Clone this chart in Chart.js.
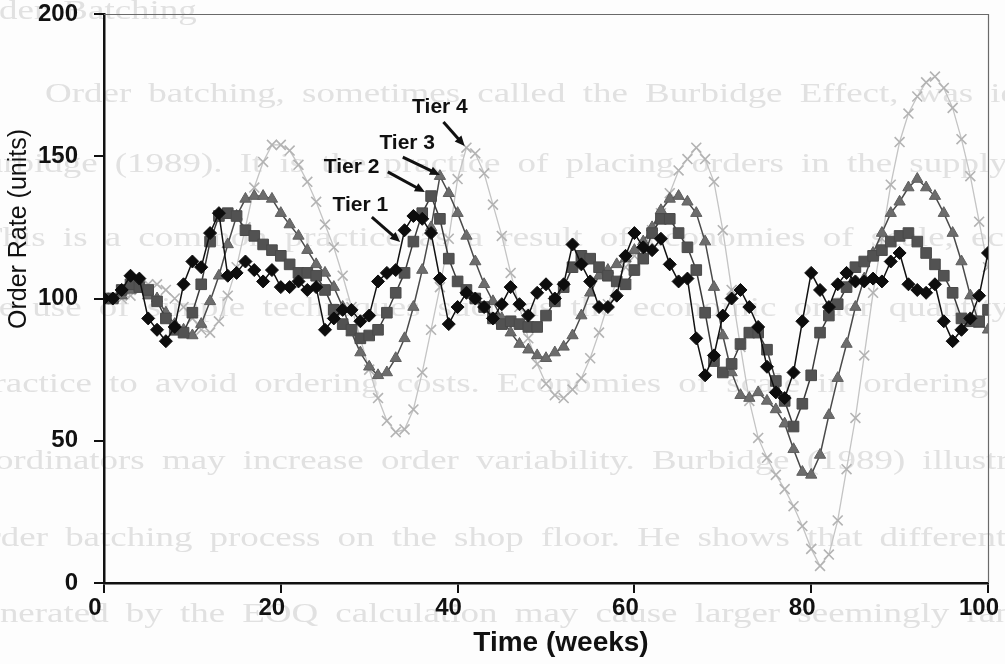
<!DOCTYPE html>
<html>
<head>
<meta charset="utf-8">
<title>Order rate by tier</title>
<script src="https://cdn.jsdelivr.net/npm/chart.js@4.4.1/dist/chart.umd.min.js"></script>
<style>
  html, body { margin: 0; padding: 0; background: #fdfdfd; overflow: hidden; }
  #page { position: relative; width: 1005px; height: 664px; }
  #scan { position: absolute; left: 0; top: 0; width: 1005px; height: 664px; overflow: hidden;
          font-family: "Liberation Serif", "DejaVu Serif", serif; font-size: 28px; line-height: 36px;
          color: #e1e1e1; filter: blur(0.6px); }
  #scan div { position: absolute; white-space: nowrap; word-spacing: 6px; transform: scaleX(1.32); transform-origin: 0 0; }
  #chart { position: absolute; left: 0; top: 0; }
</style>
</head>
<body>
<div id="page">
  <!-- faded page text showing through the scanned figure -->
  <div id="scan">
    <div style="top:-8px; left:-40px;">Order Batching</div>
    <div style="top:75px; left:45px;">Order batching, sometimes called the Burbidge Effect, was identified by</div>
    <div style="top:145px; left:-40px;">Burbidge (1989). It is the practice of placing orders in the supply chain in batches</div>
    <div style="top:219px; left:-20px;">This is a common practice as a result of economies of scale, economies of</div>
    <div style="top:289px; left:-30px;">the use of simple techniques such as the economic order quantity model</div>
    <div style="top:365px; left:-25px;">practice to avoid ordering costs. Economies of scale in ordering or transportation</div>
    <div style="top:442px; left:-40px;">coordinators may increase order variability. Burbidge (1989) illustrates the problem</div>
    <div style="top:519px; left:-30px;">order batching process on the shop floor. He shows that different order quantities</div>
    <div style="top:595px; left:-35px;">generated by the EOQ calculation may cause larger seemingly random fluctuations</div>
  </div>
  <canvas id="chart" width="1005" height="664"></canvas>
</div>
<script>
// Weeks on the x axis
const weeks = [
  0, 1, 2, 3, 4, 5, 6, 7, 8, 9,
  10, 11, 12, 13, 14, 15, 16, 17, 18, 19,
  20, 21, 22, 23, 24, 25, 26, 27, 28, 29,
  30, 31, 32, 33, 34, 35, 36, 37, 38, 39,
  40, 41, 42, 43, 44, 45, 46, 47, 48, 49,
  50, 51, 52, 53, 54, 55, 56, 57, 58, 59,
  60, 61, 62, 63, 64, 65, 66, 67, 68, 69,
  70, 71, 72, 73, 74, 75, 76, 77, 78, 79,
  80, 81, 82, 83, 84, 85, 86, 87, 88, 89,
  90, 91, 92, 93, 94, 95, 96, 97, 98, 99,
  100
];

// Order rate (units) per week
const tier1 = [
  100, 100, 103, 108, 107, 93, 89, 85, 90, 105,
  113, 111, 123, 130, 108, 109, 113, 110, 106, 110,
  104, 104, 106, 103, 104, 89, 93, 96, 96, 92,
  94, 106, 109, 110, 124, 129, 128, 123, 107, 91,
  97, 102, 100, 97, 93, 98, 104, 98, 94, 102,
  105, 100, 105, 119, 112, 106, 97, 97, 101, 115,
  123, 118, 117, 121, 112, 106, 107, 86, 73, 80,
  94, 100, 103, 97, 90, 76, 67, 65, 74, 92,
  109, 103, 97, 105, 109, 106, 106, 107, 106, 113,
  116, 105, 103, 102, 105, 92, 85, 89, 93, 101,
  116
];
const tier2 = [
  100, 100, 103, 105, 104, 103, 99, 93, 89, 88,
  95, 105, 120, 129, 130, 129, 124, 122, 119, 117,
  115, 112, 109, 109, 108, 103, 96, 91, 89, 86,
  87, 89, 95, 102, 109, 120, 130, 136, 128, 114,
  106, 103, 100, 97, 93, 91, 92, 91, 90, 90,
  94, 99, 104, 111, 115, 114, 111, 108, 106, 105,
  110, 114, 123, 128, 128, 123, 118, 110, 95, 78,
  74, 77, 84, 88, 88, 82, 71, 64, 55, 63,
  73, 88, 94, 98, 104, 111, 113, 115, 117, 120,
  122, 123, 120, 116, 112, 108, 102, 93, 92, 92,
  96
];
const tier3 = [
  100, 100, 101, 103, 104, 101, 100, 95, 91, 89,
  87, 91, 99, 108, 119, 129, 135, 136, 136, 135,
  130, 126, 122, 117, 112, 109, 104, 97, 88, 81,
  76, 73, 74, 79, 86, 97, 110, 125, 143, 137,
  130, 122, 113, 105, 99, 93, 88, 84, 82, 80,
  79, 81, 83, 87, 94, 102, 108, 110, 112, 114,
  117, 120, 125, 131, 135, 136, 134, 130, 120, 104,
  87, 74, 66, 65, 67, 64, 61, 56, 47, 39,
  38, 45, 59, 72, 84, 97, 107, 116, 123, 130,
  134, 139, 142, 139, 136, 130, 123, 113, 101, 91,
  89
];
const tier4 = [
  100, 100, 100, 101, 103, 105, 105, 103, 100, 97,
  93, 89, 88, 92, 101, 111, 125, 139, 148, 154,
  154, 152, 147, 141, 134, 126, 118, 108, 97, 86,
  75, 65, 57, 53, 54, 61, 74, 89, 104, 121,
  142, 153, 151, 144, 133, 122, 109, 97, 86, 77,
  70, 66, 65, 68, 72, 79, 88, 98, 106, 111,
  115, 119, 124, 130, 137, 145, 149, 153, 149, 141,
  124, 103, 83, 64, 51, 44, 38, 33, 27, 20,
  12, 6, 10, 22, 40, 58, 80, 102, 121, 140,
  155, 165, 171, 176, 178, 174, 167, 156, 143, 127,
  111
];

// Axis ticks
const xTicks = [0, 20, 40, 60, 80, 100];
const yTicks = [0, 50, 100, 150, 200];

// Callout labels: text, label centre and arrow in data units
const callouts = [
  { text: 'Tier 4', at: [38.0, 167.3], from: [38.4, 162.0], to: [40.8, 153.6] },
  { text: 'Tier 3', at: [34.3, 154.7], from: [33.8, 149.7], to: [38.0, 143.4] },
  { text: 'Tier 2', at: [28.0, 146.2], from: [32.1, 144.5], to: [36.3, 137.4] },
  { text: 'Tier 1', at: [29.0, 132.9], from: [30.3, 128.6], to: [33.5, 119.9] }
];

const FONT = '"Liberation Sans", Arial, sans-serif';

function toPoints(values) {
  return weeks.map((w, i) => ({ x: w, y: values[i] }));
}

function series(label, values, style) {
  return Object.assign({
    label: label,
    data: toPoints(values),
    borderWidth: 1.5,
    tension: 0,
    fill: false,
    pointBorderWidth: 1
  }, style);
}

// Frame on top/right, axis titles and the tier callouts
const decorations = {
  id: 'decorations',
  beforeDatasetsDraw(chart) {
    const { ctx, chartArea: a } = chart;
    ctx.save();
    ctx.strokeStyle = '#6a6a6a';
    ctx.lineWidth = 1.2;
    ctx.beginPath();
    ctx.moveTo(a.left, a.top + 0.5);
    ctx.lineTo(a.right + 0.5, a.top + 0.5);
    ctx.lineTo(a.right + 0.5, a.bottom);
    ctx.stroke();
    ctx.restore();
  },
  afterDraw(chart) {
    const { ctx } = chart;
    const xs = chart.scales.x, ys = chart.scales.y;
    ctx.save();
    ctx.fillStyle = '#111';
    ctx.textAlign = 'center';
    ctx.textBaseline = 'middle';

    ctx.font = 'bold 28px ' + FONT;
    ctx.fillText('Time (weeks)', 561, 643);

    ctx.save();
    ctx.translate(19, 229);
    ctx.rotate(-Math.PI / 2);
    ctx.font = '25px ' + FONT;
    ctx.fillText('Order Rate (units)', 0, 0);
    ctx.restore();

    ctx.font = 'bold 21px ' + FONT;
    ctx.strokeStyle = '#111';
    ctx.lineWidth = 3;
    callouts.forEach(c => {
      ctx.fillText(c.text, xs.getPixelForValue(c.at[0]), ys.getPixelForValue(c.at[1]));
      const x0 = xs.getPixelForValue(c.from[0]), y0 = ys.getPixelForValue(c.from[1]);
      const x1 = xs.getPixelForValue(c.to[0]), y1 = ys.getPixelForValue(c.to[1]);
      const ang = Math.atan2(y1 - y0, x1 - x0);
      const head = 10;
      ctx.beginPath();
      ctx.moveTo(x0, y0);
      ctx.lineTo(x1 - Math.cos(ang) * head * 0.6, y1 - Math.sin(ang) * head * 0.6);
      ctx.stroke();
      ctx.beginPath();
      ctx.moveTo(x1, y1);
      ctx.lineTo(x1 - head * Math.cos(ang) + 4.5 * Math.sin(ang), y1 - head * Math.sin(ang) - 4.5 * Math.cos(ang));
      ctx.lineTo(x1 - head * Math.cos(ang) - 4.5 * Math.sin(ang), y1 - head * Math.sin(ang) + 4.5 * Math.cos(ang));
      ctx.closePath();
      ctx.fill();
    });
    ctx.restore();
  }
};

const ctx = document.getElementById('chart').getContext('2d');
new Chart(ctx, {
  type: 'line',
  data: {
    datasets: [
      series('Tier 1', tier1, {
        borderColor: '#111', pointStyle: 'rectRot', pointRadius: 6.5,
        pointBackgroundColor: '#0d0d0d', pointBorderColor: '#0d0d0d'
      }),
      series('Tier 2', tier2, {
        borderColor: '#3a3a3a', pointStyle: 'rect', pointRadius: 7.5,
        pointBackgroundColor: '#525252', pointBorderColor: '#4a4a4a'
      }),
      series('Tier 3', tier3, {
        borderColor: '#4a4a4a', pointStyle: 'triangle', pointRadius: 6.5,
        pointBackgroundColor: '#6c6c6c', pointBorderColor: '#5e5e5e'
      }),
      series('Tier 4', tier4, {
        borderColor: '#c4c4c4', borderWidth: 1.3, pointStyle: 'crossRot', pointRadius: 7,
        pointBorderColor: '#b3b3b3', pointBorderWidth: 1.6
      })
    ]
  },
  options: {
    responsive: false,
    animation: false,
    events: [],
    layout: { padding: { left: 0, right: 17, top: 14, bottom: 0 } },
    plugins: {
      legend: { display: false },
      tooltip: { enabled: false }
    },
    scales: {
      x: {
        type: 'linear',
        min: 0,
        max: 100,
        afterBuildTicks: scale => { scale.ticks = xTicks.map(v => ({ value: v })); },
        afterFit: scale => { scale.height = 81; scale.paddingLeft = 0; scale.paddingRight = 0; },
        grid: { display: true, drawOnChartArea: false, drawTicks: true, tickLength: 10, color: '#111', lineWidth: 2 },
        border: { display: true, color: '#111', width: 2.5 },
        ticks: { color: '#111', padding: 1, labelOffset: -9, maxRotation: 0, font: { family: FONT, size: 24, weight: 'bold' } }
      },
      y: {
        min: 0,
        max: 200,
        afterBuildTicks: scale => { scale.ticks = yTicks.map(v => ({ value: v })); },
        afterFit: scale => { scale.width = 104; scale.paddingTop = 0; scale.paddingBottom = 0; },
        grid: { display: true, drawOnChartArea: false, drawTicks: true, tickLength: 10, color: '#111', lineWidth: 2 },
        border: { display: true, color: '#111', width: 2.5 },
        ticks: { color: '#111', padding: 16, font: { family: FONT, size: 24, weight: 'bold' } }
      }
    }
  },
  plugins: [decorations]
});
</script>
</body>
</html>
